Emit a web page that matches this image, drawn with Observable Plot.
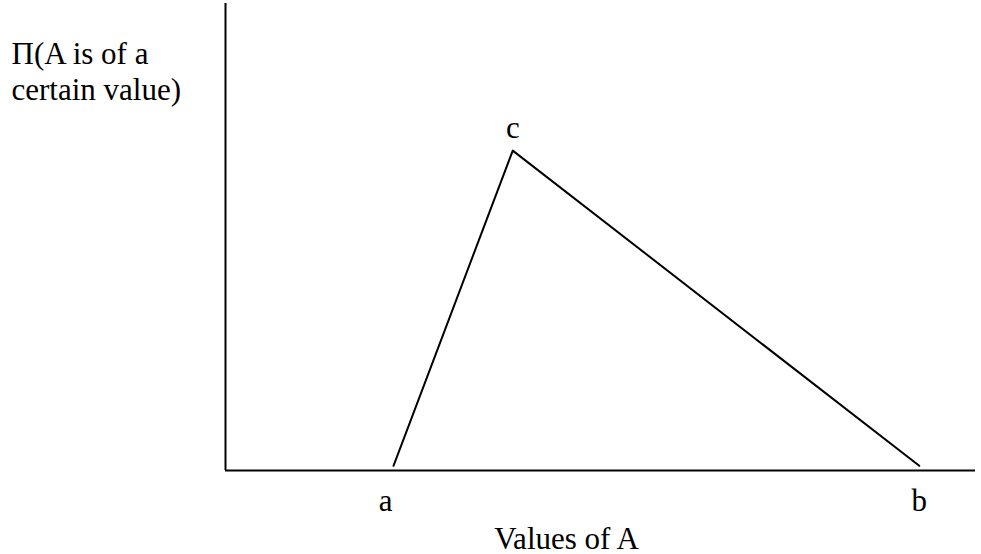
<!DOCTYPE html>
<html>
<head>
<meta charset="utf-8">
<script src="https://cdn.jsdelivr.net/npm/d3@7"></script>
<script src="https://cdn.jsdelivr.net/npm/@observablehq/plot@0.6"></script>
<style>
  html, body { margin: 0; padding: 0; background: #fff; }
  #chart svg { display: block; }
  #chart svg, #chart svg text { font-family: "Liberation Serif", "Times New Roman", Times, serif !important; }
</style>
</head>
<body>
<div id="chart"></div>
<script>
// Triangular possibility distribution
const pointNames = ["a", "c", "b"];
const xValues = [2.24, 3.83, 9.25];
const yValues = [0.01, 0.685, 0.01];
const xTitle = "Values of A";
const yTitle = "Π(A is of a\ncertain value)";

const points = pointNames.map((name, i) => ({name, x: xValues[i], y: yValues[i]}));
const font = "Liberation Serif";

const chart = Plot.plot({
  width: 981,
  height: 554,
  marginLeft: 225,
  marginRight: 6,
  marginTop: 3,
  marginBottom: 84,
  style: {fontSize: "31px", background: "#fff", color: "#000"},
  x: {domain: [0, 10], axis: null},
  y: {domain: [0, 1], axis: null},
  marks: [
    Plot.ruleX([0], {stroke: "#000", strokeWidth: 2}),
    Plot.ruleY([0], {stroke: "#000", strokeWidth: 2}),
    Plot.line(points, {x: "x", y: "y", stroke: "#000", strokeWidth: 2}),
    // label a below the axis (slightly left of the point)
    Plot.text(points.filter(d => d.name === "a"), {
      x: "x", y: 0, text: "name",
      dx: -8, dy: 40, lineAnchor: "bottom", textAnchor: "middle",
      fontSize: 31, fill: "#000"
    }),
    // label b below the axis
    Plot.text(points.filter(d => d.name === "b"), {
      x: "x", y: 0, text: "name",
      dy: 40, lineAnchor: "bottom", textAnchor: "middle",
      fontSize: 31, fill: "#000"
    }),
    // label c above the peak
    Plot.text(points.filter(d => d.name === "c"), {
      x: "x", y: "y", text: "name",
      dy: -13, lineAnchor: "bottom", textAnchor: "middle",
      fontSize: 31, fill: "#000"
    }),
    Plot.text([xTitle], {
      frameAnchor: "bottom", dx: -34, dy: 78,
      lineAnchor: "bottom", textAnchor: "middle",
      fontSize: 31, fill: "#000"
    }),
    Plot.text([yTitle], {
      frameAnchor: "top-left", dx: -214, dy: 96,
      lineAnchor: "bottom", textAnchor: "start", lineHeight: 1.15,
      fontSize: 31, fill: "#000"
    })
  ]
});
document.getElementById("chart").appendChild(chart);
</script>
</body>
</html>
